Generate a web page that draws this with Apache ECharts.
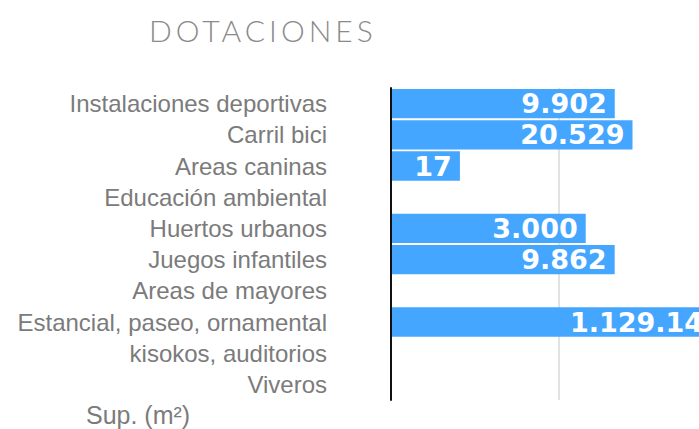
<!DOCTYPE html>
<html>
<head>
<meta charset="utf-8">
<script src="https://cdn.jsdelivr.net/npm/echarts@6/dist/echarts.min.js"></script>
<style>
    html, body { margin: 0; padding: 0; background: #fff; }
    #dotaciones { width: 699px; height: 429px; }
    /* el título lleva espaciado entre letras */
    #dotaciones text[style*="Lato"] { letter-spacing: 4px; }
</style>
</head>
<body>
<div id="dotaciones"></div>
<script>
var categorias = [
    'Instalaciones deportivas',
    'Carril bici',
    'Areas caninas',
    'Educación ambiental',
    'Huertos urbanos',
    'Juegos infantiles',
    'Areas de mayores',
    'Estancial, paseo, ornamental',
    'kisokos, auditorios',
    'Viveros'
];
// Sup. (m2), null = sin dato
var superficie = [9902, 20529, 17, null, 3000, 9862, null, 1129140, null, null];
var lineaGuia = 1000;

function miles(v) {
    return String(v).replace(/\B(?=(\d{3})+(?!\d))/g, '.');
}

var myChart = echarts.init(document.getElementById('dotaciones'), null, { renderer: 'svg' });
myChart.setOption({
    animation: false,
    title: [
        {
            text: 'DOTACIONES',
            left: 144,
            top: 10,
            textStyle: { color: '#8a8a8a', fontFamily: 'Lato', fontWeight: 300, fontSize: 30 }
        },
        {
            text: 'Sup. (m²)',
            left: 81,
            top: 397,
            textStyle: { color: '#7b7b7b', fontFamily: 'Liberation Sans', fontWeight: 'normal', fontSize: 25 }
        }
    ],
    // la escala sigue a la derecha fuera de la imagen
    grid: { left: 391, top: 88, height: 312, width: 392, outerBoundsMode: 'none', containLabel: false },
    xAxis: {
        type: 'log',
        logBase: 10,
        min: 1,
        max: 10000000,
        axisLine: { show: false },
        axisTick: { show: false },
        axisLabel: { show: false },
        splitLine: { show: false }
    },
    yAxis: {
        type: 'category',
        inverse: true,
        data: categorias,
        z: 10,
        axisLine: { show: true, lineStyle: { color: '#111', width: 2 } },
        axisTick: { show: false },
        axisLabel: {
            interval: 0,
            color: '#7b7b7b',
            fontFamily: 'Liberation Sans',
            fontSize: 24,
            margin: 64
        }
    },
    series: [
        {
            type: 'bar',
            data: superficie,
            barCategoryGap: '6%',
            z: 2,
            itemStyle: { color: '#44a6ff' },
            label: {
                show: true,
                position: 'insideRight',
                distance: 8,
                color: '#fff',
                fontFamily: 'DejaVu Sans',
                fontWeight: 'bold',
                fontSize: 27,
                formatter: function (p) { return miles(p.value); }
            },
            markLine: {
                silent: true,
                z: 1,
                symbol: 'none',
                label: { show: false },
                lineStyle: { color: '#d8d8d8', width: 1.5, type: 'solid' },
                data: [{ xAxis: lineaGuia }]
            }
        }
    ]
});
</script>
</body>
</html>
